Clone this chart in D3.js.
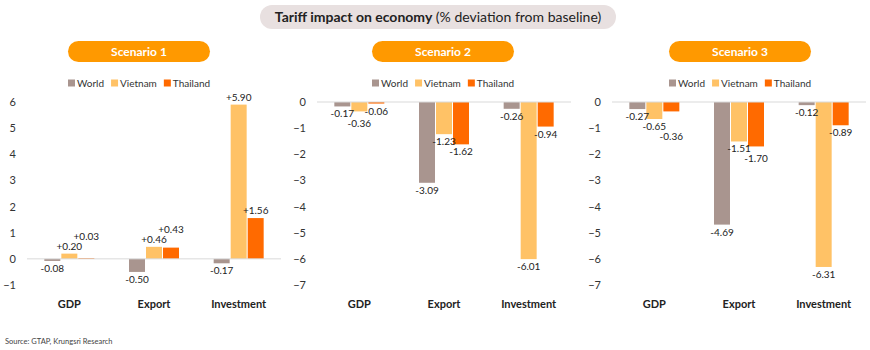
<!DOCTYPE html>
<html>
<head>
<meta charset="utf-8">
<script src="https://cdn.jsdelivr.net/npm/d3@7"></script>
<style>
  body { margin: 0; background: #fff; }
  svg { font-family: Lato, "Open Sans", sans-serif; }
</style>
</head>
<body>
<script>
// Data
const categories = ['GDP', 'Export', 'Investment'];
const seriesNames = ['World', 'Vietnam', 'Thailand'];
const scenarioNames = ['Scenario 1', 'Scenario 2', 'Scenario 3'];
const scenario1 = [[-0.08, 0.20, 0.03], [-0.50, 0.46, 0.43], [-0.17, 5.90, 1.56]];
const scenario2 = [[-0.17, -0.36, -0.06], [-3.09, -1.23, -1.62], [-0.26, -6.01, -0.94]];
const scenario3 = [[-0.27, -0.65, -0.36], [-4.69, -1.51, -1.70], [-0.12, -6.31, -0.89]];
const yTicks1 = [-1, 0, 1, 2, 3, 4, 5, 6];
const yTicks23 = [0, -1, -2, -3, -4, -5, -6, -7];

const colors = {World: '#a9958f', Vietnam: '#ffc266', Thailand: '#ff6a00'};

const W = 870, H = 350;
const svg = d3.select('body').append('svg')
  .attr('width', W).attr('height', H);

// Title pill
const title = svg.append('g');
title.append('rect')
  .attr('x', 260).attr('y', 5).attr('width', 356).attr('height', 24)
  .attr('rx', 12).attr('fill', '#e8e0e0');
const tt = title.append('text')
  .attr('x', 438).attr('y', 22).attr('text-anchor', 'middle')
  .attr('font-size', 14).attr('fill', '#222');
tt.append('tspan').attr('font-weight', 'bold').text('Tariff impact on economy');
tt.append('tspan').text(' (% deviation from baseline)');

// Panels
const panels = [
  {name: scenarioNames[0], data: scenario1, ticks: yTicks1, domain: [-1, 6], left: 27, pill: 139},
  {name: scenarioNames[1], data: scenario2, ticks: yTicks23, domain: [-7, 0], left: 317, pill: 443},
  {name: scenarioNames[2], data: scenario3, ticks: yTicks23, domain: [-7, 0], left: 612, pill: 740}
];
const axisWidth = 254;
const fmt = v => (v > 0 ? '+' : '') + v.toFixed(2);

panels.forEach(p => {
  const g = svg.append('g');

  // Scenario pill
  g.append('rect')
    .attr('x', p.pill - 71).attr('y', 41).attr('width', 142).attr('height', 21)
    .attr('rx', 10.5).attr('fill', '#ff9900');
  g.append('text')
    .attr('x', p.pill).attr('y', 56).attr('text-anchor', 'middle')
    .attr('font-size', 12).attr('font-weight', 'bold').attr('fill', '#fff')
    .text(p.name);

  // Legend
  const legend = g.append('g').attr('transform', `translate(${p.pill - 71}, 83)`);
  let lx = 0;
  seriesNames.forEach(s => {
    legend.append('rect').attr('x', lx).attr('y', -3.5).attr('width', 7).attr('height', 7)
      .attr('fill', colors[s]);
    const t = legend.append('text').attr('x', lx + 9).attr('y', 4)
      .attr('font-size', 10).attr('fill', '#333').text(s);
    lx += 9 + t.node().getComputedTextLength() + 7;
  });

  const y = d3.scaleLinear().domain(p.domain).range([285, 102]);
  const x0 = d3.scaleBand().domain(categories).range([p.left, p.left + axisWidth]);
  const x1 = d3.scaleBand().domain(seriesNames).range([0, 50]).paddingInner(0.06);

  // Y axis labels (no line)
  const yAxis = d3.axisLeft(y).tickValues(p.ticks).tickSize(0).tickPadding(0)
    .tickFormat(d3.format('d'));
  g.append('g').attr('transform', `translate(${p.left - 11},0)`).call(yAxis)
    .call(a => a.select('.domain').remove())
    .call(a => a.selectAll('text').attr('font-size', 11).attr('fill', '#333')
      .attr('font-family', 'Lato, "Open Sans", sans-serif'));

  // Bars
  const groups = g.selectAll('.grp').data(categories).enter().append('g')
    .attr('transform', c => `translate(${x0(c) + x0.bandwidth() / 2 - 25},0)`);
  groups.each(function(c, ci) {
    const vals = seriesNames.map((s, si) => ({s, v: p.data[ci][si]}));
    const gg = d3.select(this);
    gg.selectAll('rect').data(vals).enter().append('rect')
      .attr('x', d => x1(d.s))
      .attr('width', x1.bandwidth())
      .attr('y', d => y(Math.max(0, d.v)))
      .attr('height', d => Math.abs(y(d.v) - y(0)))
      .attr('fill', d => colors[d.s]);
    const labels = gg.selectAll('text').data(vals).enter().append('text')
      .attr('x', d => x1(d.s) + x1.bandwidth() / 2)
      .attr('y', d => d.v >= 0 ? y(d.v) - 4 : y(d.v) + 11)
      .attr('text-anchor', 'middle')
      .attr('font-size', 10).attr('fill', '#222')
      .text(d => fmt(d.v));

    // simple dodge: push overlapping labels further out from the axis
    const placed = [];
    labels.each(function(d) {
      const el = d3.select(this);
      const w = this.getComputedTextLength();
      const cx = +el.attr('x');
      let ty = +el.attr('y');
      const dir = d.v >= 0 ? -1 : 1;
      let moved = true;
      while (moved) {
        moved = false;
        placed.forEach(q => {
          if (Math.abs(q.cx - cx) < (q.w + w) / 2 + 1 && Math.abs(q.y - ty) < 10) {
            ty = q.y + dir * 10;
            moved = true;
          }
        });
      }
      el.attr('y', ty);
      placed.push({cx, w, y: ty});
    });
  });

  // Zero line
  g.append('line')
    .attr('x1', p.left).attr('x2', p.left + axisWidth)
    .attr('y1', y(0)).attr('y2', y(0))
    .attr('stroke', '#d9d9d9').attr('stroke-width', 1);

  // Category labels
  g.selectAll('.cat').data(categories).enter().append('text')
    .attr('x', c => x0(c) + x0.bandwidth() / 2)
    .attr('y', 308).attr('text-anchor', 'middle')
    .attr('font-size', 11).attr('font-weight', 'bold').attr('fill', '#222')
    .text(c => c);
});

// Source
svg.append('text').attr('x', 5).attr('y', 344)
  .attr('font-size', 7.5).attr('fill', '#444')
  .text('Source: GTAP, Krungsri Research');
</script>
</body>
</html>
